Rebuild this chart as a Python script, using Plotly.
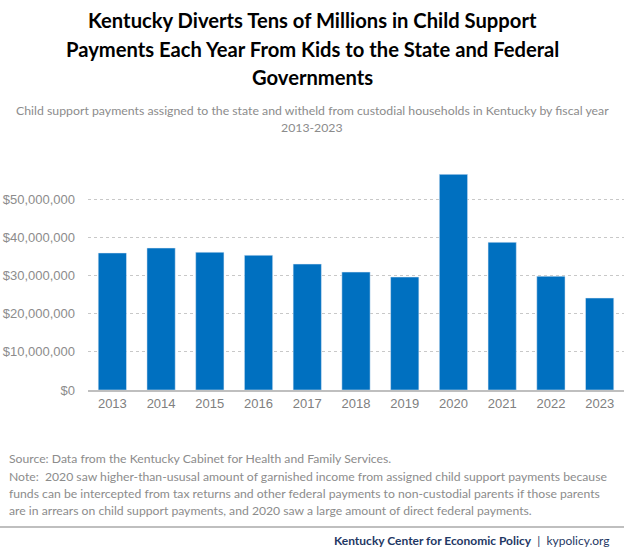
import plotly.graph_objects as go

years = ["2013", "2014", "2015", "2016", "2017", "2018", "2019", "2020", "2021", "2022", "2023"]
payments = [35.9e6, 37.2e6, 36.1e6, 35.3e6, 33.0e6, 30.9e6, 29.6e6, 56.5e6, 38.7e6, 29.8e6, 24.1e6]
tick_vals = [0, 10e6, 20e6, 30e6, 40e6, 50e6]
tick_text = ["$0", "$10,000,000", "$20,000,000", "$30,000,000", "$40,000,000", "$50,000,000"]

title_lines = [
    "Kentucky Diverts Tens of Millions in Child Support",
    "Payments Each Year From Kids to the State and Federal",
    "Governments",
]
subtitle_lines = [
    "Child support payments assigned to the state and witheld from custodial households in Kentucky by fiscal year",
    "2013-2023",
]
note_lines = [
    "Source: Data from the Kentucky Cabinet for Health and Family Services.",
    "Note:  2020 saw higher-than-ususal amount of garnished income from assigned child support payments because",
    "funds can be intercepted from tax returns and other federal payments to non-custodial parents if those parents",
    "are in arrears on child support payments, and 2020 saw a large amount of direct federal payments.",
]
footer_org = "Kentucky Center for Economic Policy"
footer_url = "kypolicy.org"

W, H = 624, 550
L, T, B = 88, 161, 160
PW, PH = W - L, H - T - B


def px(xp):
    return (xp - L) / PW


def py(yp):
    return (H - B - yp) / PH


fig = go.Figure(go.Bar(x=years, y=payments, marker_color="#0070C0", hoverinfo="x+y"))

anns = []
title_y = [20, 49, 77]
for t, yp in zip(title_lines, title_y):
    anns.append(dict(text="<b>" + t + "</b>", x=px(W / 2), y=py(yp), xref="paper", yref="paper",
                     xanchor="center", yanchor="middle", showarrow=False,
                     font=dict(family="Lato", size=20.2, color="#000000")))
sub_y = [111, 127]
for t, yp in zip(subtitle_lines, sub_y):
    anns.append(dict(text=t, x=px(W / 2), y=py(yp), xref="paper", yref="paper",
                     xanchor="center", yanchor="middle", showarrow=False,
                     font=dict(family="Lato", size=12.3, color="#8c8c8c")))
note_y = [458, 476, 493, 510]
for t, yp in zip(note_lines, note_y):
    anns.append(dict(text=t, x=px(7), y=py(yp), xref="paper", yref="paper",
                     xanchor="left", yanchor="middle", showarrow=False,
                     font=dict(family="Lato", size=12.2, color="#8c8c8c")))
anns.append(dict(text="<b>" + footer_org + "</b>  |  " + footer_url, x=px(612), y=py(540),
                 xref="paper", yref="paper", xanchor="right", yanchor="middle", showarrow=False,
                 font=dict(family="Lato", size=12, color="#1f3864")))

fig.update_layout(
    width=W, height=H,
    margin=dict(l=L, r=0, t=T, b=B),
    paper_bgcolor="white", plot_bgcolor="white",
    bargap=0.42,
    showlegend=False,
    annotations=anns,
    shapes=[dict(type="line", xref="paper", yref="paper", x0=px(0), x1=1,
                 y0=py(527), y1=py(527),
                 line=dict(color="#bfbfbf", width=2))],
    xaxis=dict(showline=True, linecolor="#bfbfbf", linewidth=2, ticks="",
               tickfont=dict(family="Liberation Sans", size=13, color="#808080"),
               showgrid=False),
    yaxis=dict(range=[0, 60e6], tickvals=tick_vals, ticktext=tick_text,
               showgrid=True, gridcolor="#c8c8c8", griddash="dot", gridwidth=1,
               zeroline=False, ticks="", ticklabelstandoff=12,
               tickfont=dict(family="Liberation Sans", size=13, color="#8c8c8c")),
)
fig.write_html("out.html", config={"displayModeBar": False},
               post_script="document.body.style.margin='0';")
